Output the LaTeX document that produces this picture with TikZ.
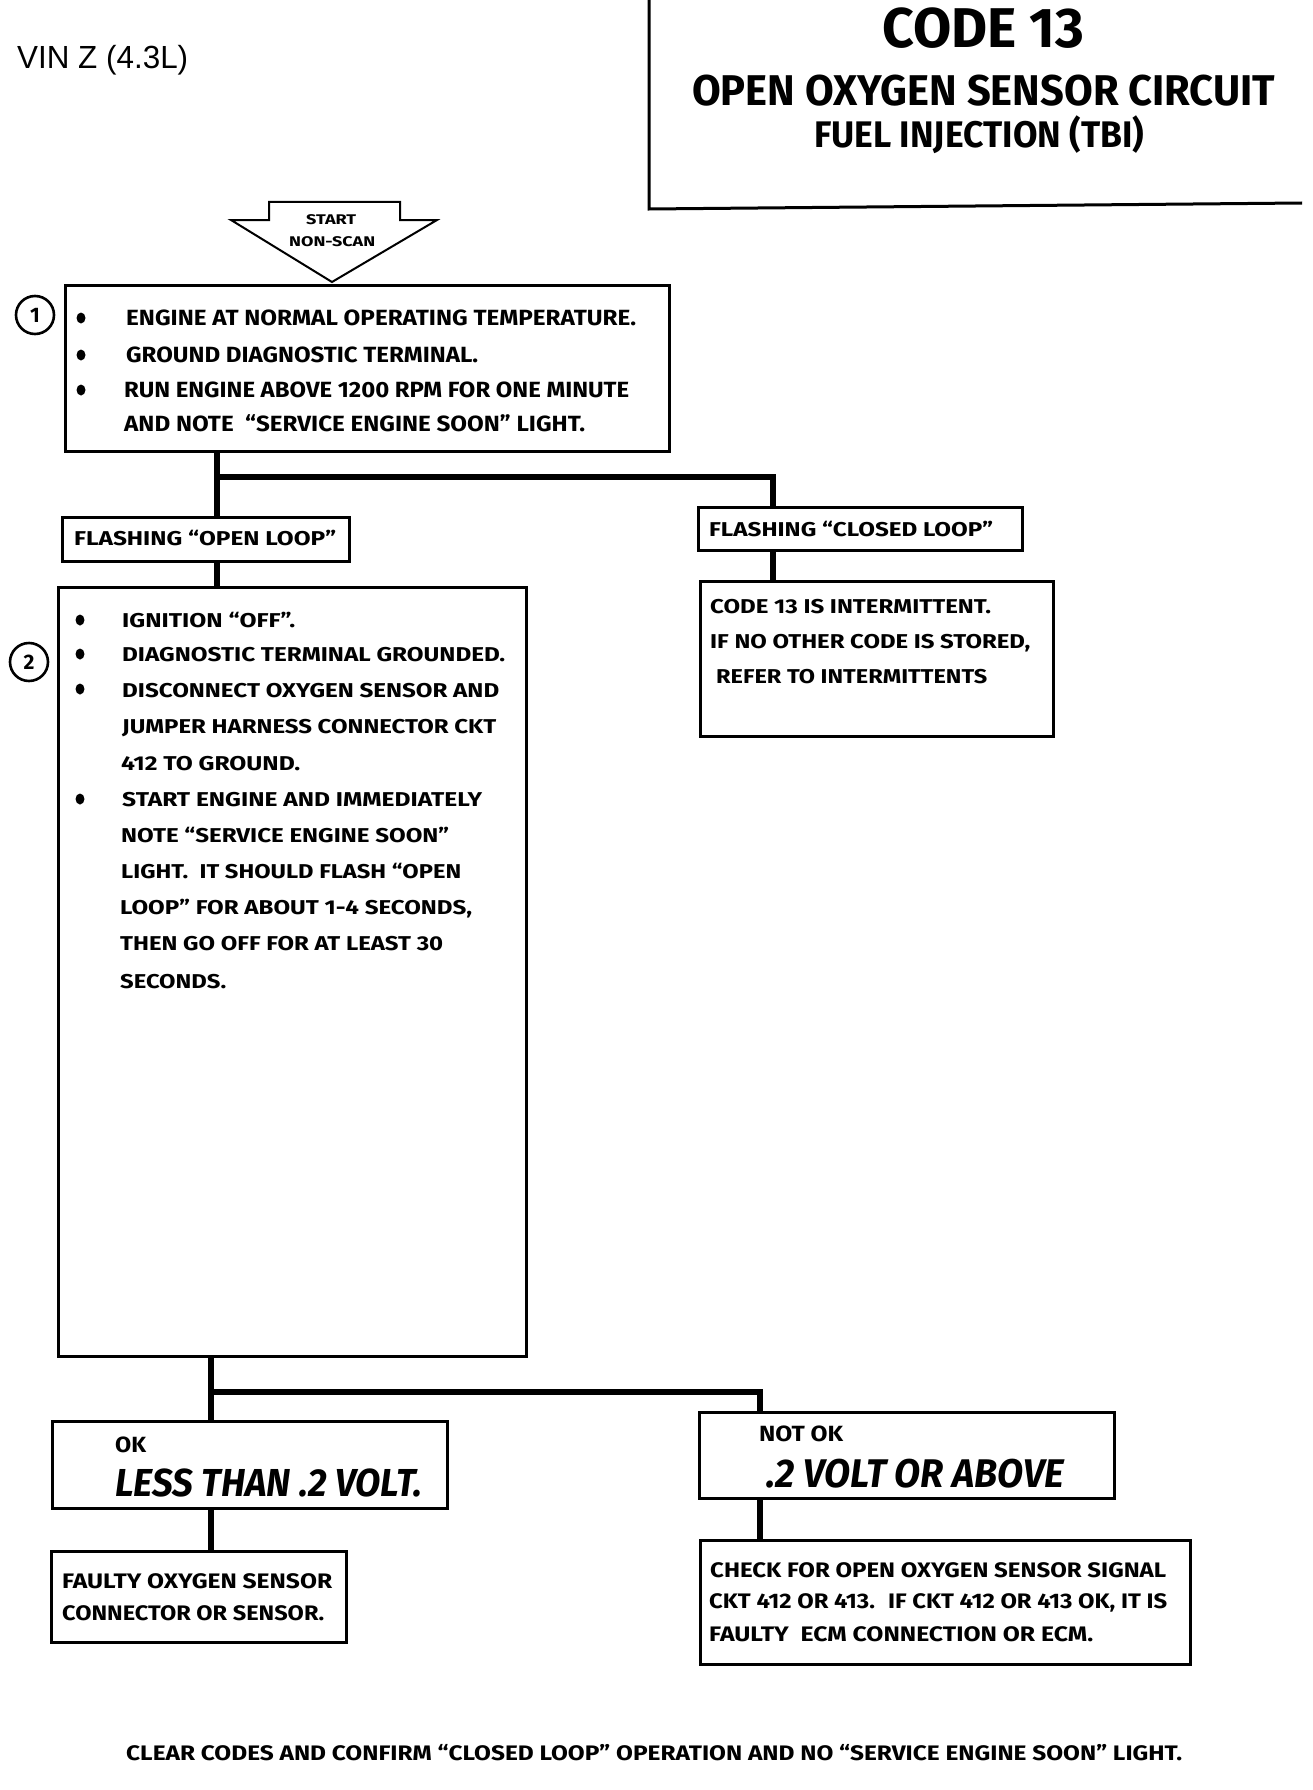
\documentclass[tikz,border=0pt]{standalone}
\usepackage{fontspec}
\setmainfont{Fira Sans}
\newfontfamily\arialf{Liberation Sans}
\usepackage{graphicx}
\newcommand\fw[2]{\resizebox{#1pt}{\height}{#2}}
\begin{document}
\begin{tikzpicture}[x=1pt,y=-1pt,
  box/.style={draw, line width=2.6pt, inner sep=0pt, anchor=north west},
  conn/.style={line width=6pt},
  tx/.style={anchor=base west, inner sep=0pt, font=\bfseries\fontsize{#1}{#1}\selectfont},
  tx/.default=20,
  num/.style={circle, draw, line width=2.6pt, minimum size=38pt, inner sep=0pt, font=\bfseries\fontsize{21}{21}\selectfont},
  bul/.style={fill=black}
]
\useasboundingbox[fill=white] (0,0) rectangle (1312,1790);

% header
\node[anchor=base west, inner sep=0pt, font=\arialf\fontsize{32}{32}\selectfont] (vin) at (17,69) {\fw{171}{VIN Z (4.3L)}};
\draw[line width=3pt] (649,0) -- (649,209) -- (1302,203);
\node[tx=56] (t1) at (882,48) {\fw{202}{CODE 13}};
\node[tx=43] (t2) at (692,106) {\fw{583}{OPEN OXYGEN SENSOR CIRCUIT}};
\node[tx=37] (t3) at (814,148) {\fw{330}{FUEL INJECTION (TBI)}};

% start arrow
\draw[line width=2pt, line join=miter] (269,202) -- (400,202) -- (400,220) -- (437,220) -- (332,282) -- (231,220) -- (269,220) -- cycle;
\node[tx=14] (st1) at (306,224) {\fw{50}{START}};
\node[tx=14] (st2) at (289,246) {\fw{86}{NON-SCAN}};

% box 1
\node[box, minimum width=604pt, minimum height=166pt] (b1) at (64,284) {};
\node[num] (n1) at (35,315) {1};
\foreach \y in {318,355,390} \fill (81,\y) ellipse (4.5pt and 5.5pt);
\node[tx=22] (l11) at (126,325) {\fw{510}{ENGINE AT NORMAL OPERATING TEMPERATURE.}};
\node[tx=22] (l12) at (126,362) {\fw{352}{GROUND DIAGNOSTIC TERMINAL.}};
\node[tx=22] (l13) at (124,397) {\fw{505}{RUN ENGINE ABOVE 1200 RPM FOR ONE MINUTE}};
\node[tx=22] (l14) at (124,431) {\fw{461}{AND NOTE \ ``SERVICE ENGINE SOON'' LIGHT.}};

% flashing boxes
\node[box, minimum width=287pt, minimum height=44pt] (ol) at (61,516) {};
\node[tx=20] (olt) at (74,545) {\fw{262}{FLASHING ``OPEN LOOP''}};
\node[box, minimum width=324pt, minimum height=43pt] (cl) at (697,506) {};
\node[tx=20] (clt) at (709,536) {\fw{284}{FLASHING ``CLOSED LOOP''}};

% code 13 box
\node[box, minimum width=353pt, minimum height=155pt] (c13) at (699,580) {};
\node[tx=20] (c1) at (710,613) {\fw{281}{CODE 13 IS INTERMITTENT.}};
\node[tx=20] (c2) at (710,648) {\fw{320}{IF NO OTHER CODE IS STORED,}};
\node[tx=20] (c3) at (716,683) {\fw{271}{REFER TO INTERMITTENTS}};

% box 2
\node[box, minimum width=468pt, minimum height=769pt] (b2) at (57,586) {};
\node[num] (n2) at (29,662) {2};
\foreach \y in {620,654,689,799} \fill (80,\y) ellipse (4.5pt and 5.5pt);
\node[tx=20] (m1) at (122,627) {\fw{173}{IGNITION ``OFF''.}};
\node[tx=20] (m2) at (122,661) {\fw{383}{DIAGNOSTIC TERMINAL GROUNDED.}};
\node[tx=20] (m3) at (122,697) {\fw{377}{DISCONNECT OXYGEN SENSOR AND}};
\node[tx=20] (m4) at (122,733) {\fw{374}{JUMPER HARNESS CONNECTOR CKT}};
\node[tx=20] (m5) at (121,770) {\fw{179}{412 TO GROUND.}};
\node[tx=20] (m6) at (122,806) {\fw{360}{START ENGINE AND IMMEDIATELY}};
\node[tx=20] (m7) at (121,842) {\fw{328}{NOTE ``SERVICE ENGINE SOON''}};
\node[tx=20] (m8) at (121,878) {\fw{340}{LIGHT. \ IT SHOULD FLASH ``OPEN}};
\node[tx=20] (m9) at (120,914) {\fw{352}{LOOP'' FOR ABOUT 1-4 SECONDS,}};
\node[tx=20] (m10) at (120,950) {\fw{323}{THEN GO OFF FOR AT LEAST 30}};
\node[tx=20] (m11) at (120,988) {\fw{106}{SECONDS.}};

% result boxes
\node[box, minimum width=395pt, minimum height=87pt] (ok) at (51,1420) {};
\node[tx=22] (okt) at (115,1452) {\fw{31}{OK}};
\node[tx=39, font=\bfseries\itshape\fontsize{39}{39}\selectfont] (okv) at (115,1496) {\fw{307}{LESS THAN .2 VOLT.}};
\node[box, minimum width=415pt, minimum height=86pt] (nok) at (698,1411) {};
\node[tx=22] (nokt) at (759,1441) {\fw{84}{NOT OK}};
\node[tx=39, font=\bfseries\itshape\fontsize{40}{40}\selectfont] (nokv) at (766,1487) {\fw{298}{.2 VOLT OR ABOVE}};

\node[box, minimum width=295pt, minimum height=91pt] (fo) at (50,1550) {};
\node[tx=21] (f1) at (62,1588) {\fw{270}{FAULTY OXYGEN SENSOR}};
\node[tx=21] (f2) at (62,1620) {\fw{262}{CONNECTOR OR SENSOR.}};

\node[box, minimum width=490pt, minimum height=124pt] (ck) at (699,1539) {};
\node[tx=21] (k1) at (710,1577) {\fw{456}{CHECK FOR OPEN OXYGEN SENSOR SIGNAL}};
\node[tx=21] (k2) at (709,1608) {\fw{458}{CKT 412 OR 413. \ IF CKT 412 OR 413 OK, IT IS}};
\node[tx=21] (k3) at (709,1641) {\fw{384}{FAULTY \ ECM CONNECTION OR ECM.}};

\node[tx=21] (bot) at (126,1760) {\fw{1056}{CLEAR CODES AND CONFIRM ``CLOSED LOOP'' OPERATION AND NO ``SERVICE ENGINE SOON'' LIGHT.}};

% connectors
\coordinate (j1) at (217,477);
\coordinate (j1r) at (773,477);
\coordinate (j2) at (211,1392);
\coordinate (j2r) at (760,1392);
\draw[conn] (b1.south -| j1) -- (ol.north -| j1);
\draw[conn] (j1) -| (cl.north -| j1r);
\draw[conn] (ol.south -| j1) -- (b2.north -| j1);
\draw[conn] (cl.south -| j1r) -- (c13.north -| j1r);
\draw[conn] (b2.south -| j2) -- (ok.north -| j2);
\draw[conn] (j2) -| (nok.north -| j2r);
\draw[conn] (ok.south -| j2) -- (fo.north -| j2);
\draw[conn] (nok.south -| j2r) -- (ck.north -| j2r);
\end{tikzpicture}
\end{document}
